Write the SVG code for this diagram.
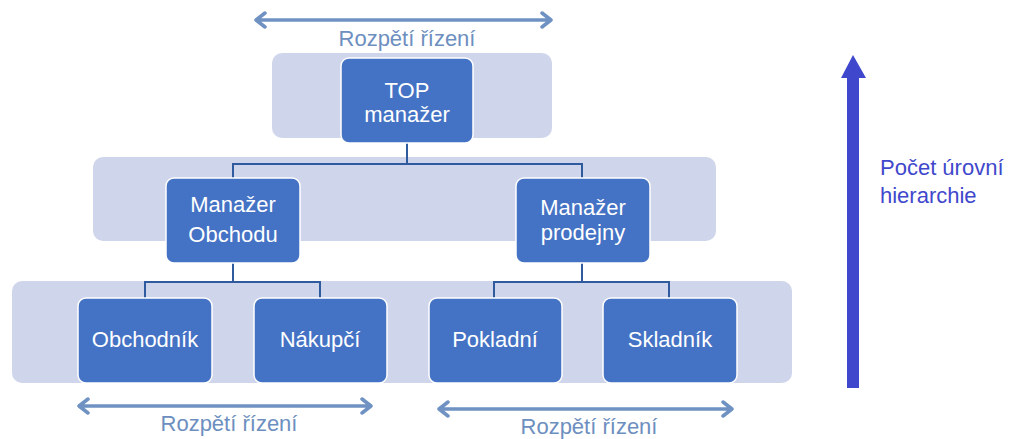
<svg xmlns="http://www.w3.org/2000/svg" width="1011" height="439" viewBox="0 0 1011 439">
<style>
.band{fill:#CFD5EA;}
.box{fill:#4472C4;stroke:#FFFFFF;stroke-width:1.5;}
.nt{font-family:"Liberation Sans",Arial,sans-serif;font-size:22px;fill:#FFFFFF;text-anchor:middle;}
.conn{fill:none;stroke:#2F5A9E;stroke-width:2;}
.span{fill:none;stroke:#6F92C3;stroke-width:3.5;stroke-linecap:round;stroke-linejoin:round;}
.st{font-family:"Liberation Sans",Arial,sans-serif;font-size:22px;fill:#6D8FC0;text-anchor:middle;}
.lv{font-family:"Liberation Sans",Arial,sans-serif;font-size:22px;fill:#3F48CC;}
</style>
<rect width="1011" height="439" fill="#FFFFFF"/>
<g id="bands">
<rect class="band" x="272" y="53" width="280" height="85" rx="10"/>
<rect class="band" x="93" y="157" width="623" height="84" rx="10"/>
<rect class="band" x="12" y="281" width="780" height="102" rx="10"/>
</g>
<g id="connectors">
<path class="conn" d="M407,143 V164 M233,178 V164 H582 V178"/>
<path class="conn" d="M233,262 V282 M145,298 V282 H320 V298"/>
<path class="conn" d="M582,262 V282 M494,298 V282 H669 V298"/>
</g>
<g id="top">
<rect class="box" x="341" y="58" width="132" height="85" rx="8"/>
<text class="nt" x="407" y="98">TOP</text>
<text class="nt" x="407" y="122">manažer</text>
</g>
<g id="manazer-obchodu">
<rect class="box" x="166" y="178" width="134" height="85" rx="8"/>
<text class="nt" x="233" y="212">Manažer</text>
<text class="nt" x="233" y="242">Obchodu</text>
</g>
<g id="manazer-prodejny">
<rect class="box" x="516" y="178" width="134" height="85" rx="8"/>
<text class="nt" x="583" y="215">Manažer</text>
<text class="nt" x="583" y="240">prodejny</text>
</g>
<g id="obchodnik">
<rect class="box" x="78" y="298" width="134" height="85" rx="8"/>
<text class="nt" x="145" y="347">Obchodník</text>
</g>
<g id="nakupci">
<rect class="box" x="254" y="298" width="133" height="85" rx="8"/>
<text class="nt" x="320" y="347">Nákupčí</text>
</g>
<g id="pokladni">
<rect class="box" x="429" y="298" width="133" height="85" rx="8"/>
<text class="nt" x="495" y="347">Pokladní</text>
</g>
<g id="skladnik">
<rect class="box" x="603" y="298" width="134" height="85" rx="8"/>
<text class="nt" x="670" y="347">Skladník</text>
</g>
<g id="span-top">
<path class="span" d="M256,20 H551 M265,13 L256,20 L265,27 M542,13 L551,20 L542,27"/>
<text class="st" x="407" y="46">Rozpětí řízení</text>
</g>
<g id="span-left">
<path class="span" d="M79,406 H371 M88,399 L79,406 L88,413 M362,399 L371,406 L362,413"/>
<text class="st" x="229" y="431">Rozpětí řízení</text>
</g>
<g id="span-right">
<path class="span" d="M439,409 H732 M448,402 L439,409 L448,416 M723,402 L732,409 L723,416"/>
<text class="st" x="589" y="434">Rozpětí řízení</text>
</g>
<g id="levels">
<path fill="#3F48CC" d="M847,388 V78 H841 L853,55 L866,78 H859 V388 Z"/>
<text class="lv" x="880" y="175">Počet úrovní</text>
<text class="lv" x="880" y="203">hierarchie</text>
</g>
</svg>
